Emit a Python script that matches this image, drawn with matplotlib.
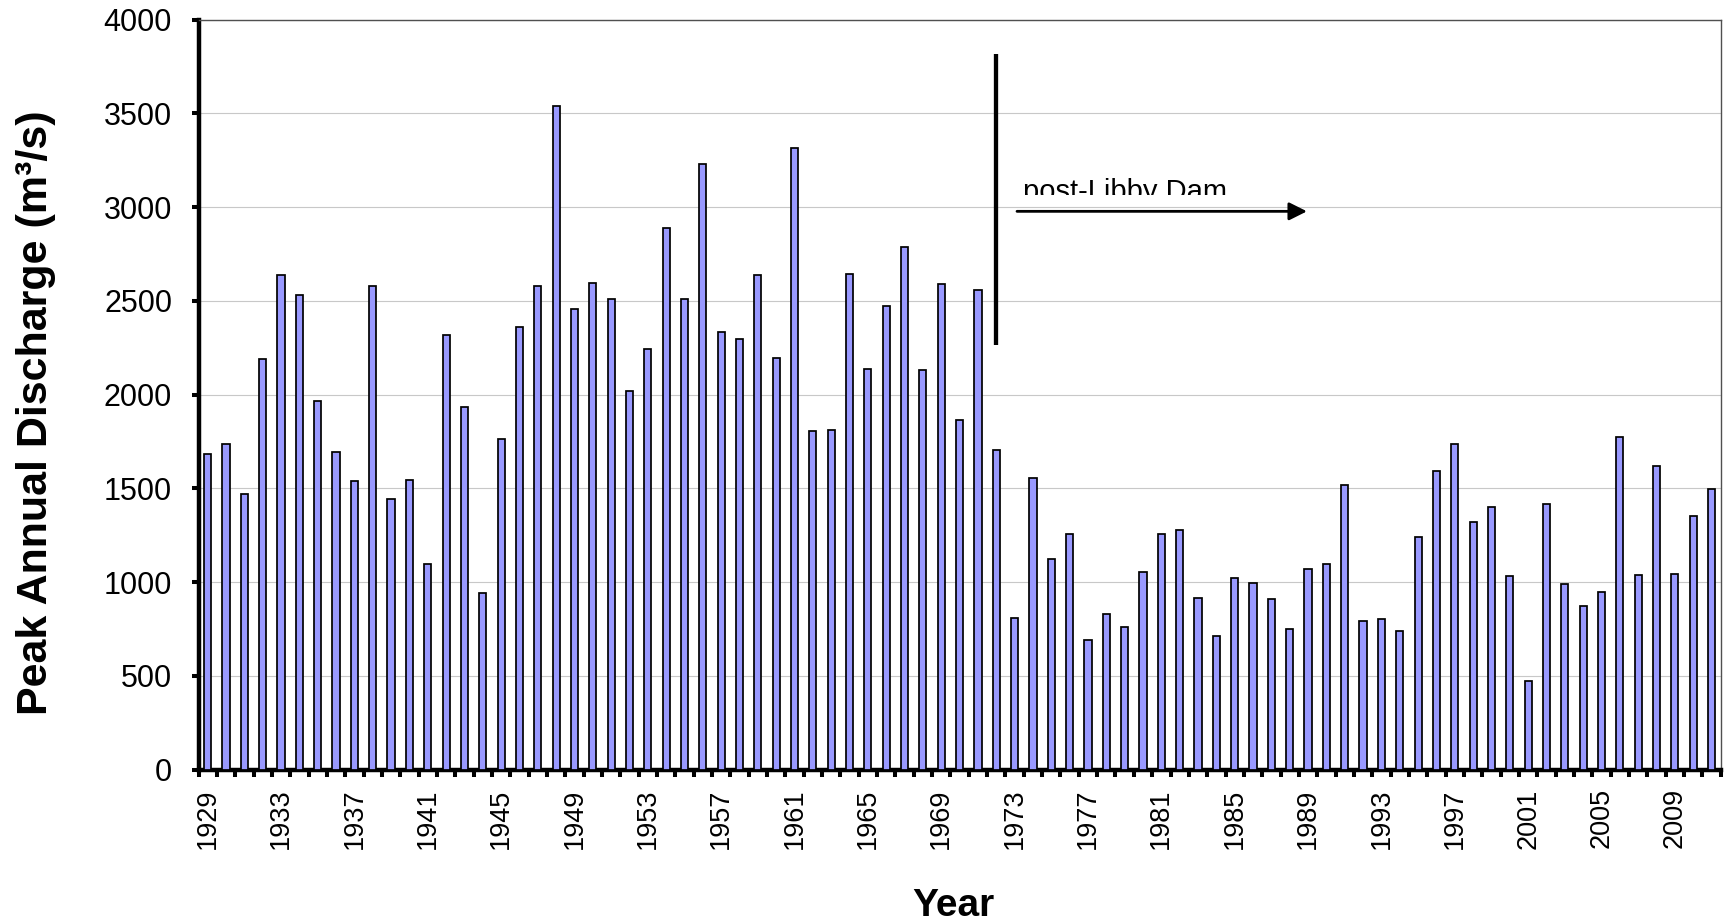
import matplotlib
matplotlib.use("Agg")
import matplotlib.pyplot as plt
from matplotlib.transforms import Bbox, TransformedBbox
import numpy as np

plt.rcParams['font.family'] = ['Liberation Sans', 'DejaVu Sans']

years = list(range(1929, 2012))
discharge = [
    1683, 1734, 1470, 2187, 2639, 2529, 1964, 1692, 1537, 2581,
    1445, 1544, 1097, 2320, 1933, 942, 1764, 2360, 2581, 3539,
    2458, 2595, 2510, 2018, 2245, 2888, 2511, 3230, 2332, 2297,
    2639, 2195, 3314, 1803, 1812, 2644, 2137, 2470, 2786, 2133,
    2589, 1862, 2556, 1702, 807, 1557, 1125, 1257, 692, 829,
    759, 1052, 1258, 1278, 916, 710, 1022, 994, 909, 749,
    1068, 1095, 1518, 793, 804, 740, 1241, 1592, 1738, 1322,
    1399, 1031, 473, 1417, 989, 871, 946, 1773, 1036, 1621,
    1042, 1353, 1496,
]
label_years = list(range(1929, 2012, 4))
dam_year = 1972
annotation_text = "post-Libby Dam"

W, H = 1729, 923
fig = plt.figure(figsize=(W / 100, H / 100), dpi=100)
left, right, top, bottom = 198.5, 1720.7, 19.5, 769.6
ax = fig.add_axes([left / W, 1 - bottom / H, (right - left) / W, (bottom - top) / H])

x = np.arange(len(years))
ax.bar(x, discharge, width=0.39, color='#9999FF', edgecolor='black', linewidth=1.25, zorder=3)

ax.set_xlim(-0.5, len(years) - 0.5)
ax.set_ylim(0, 4000)
ax.set_yticks(np.arange(0, 4001, 500))
ax.yaxis.grid(True, color='#c8c8c8', linewidth=0.8)
ax.set_axisbelow(True)

idx = [years.index(y) for y in label_years]
ax.set_xticks(idx)
ax.set_xticklabels([str(y) for y in label_years], rotation=90, fontsize=19.5)
ax.set_xticks(np.arange(-0.5, len(years)), minor=True)
ax.tick_params(axis='x', which='major', length=0, pad=13.5)
ax.tick_params(axis='x', which='minor', length=5, width=2.9, direction='out', color='black')
ax.tick_params(axis='y', which='major', length=5, width=2.9, direction='out', pad=14, labelsize=22)

for s in ['left', 'bottom']:
    ax.spines[s].set_linewidth(3.2)
    ax.spines[s].set_color('black')
for s in ['top', 'right']:
    ax.spines[s].set_linewidth(1.0)
    ax.spines[s].set_color('#505050')

# dam marker
xd = years.index(dam_year)
ax.plot([xd, xd], [2262, 3818], color='black', linewidth=3.1, zorder=4, solid_capstyle='butt')
ax.annotate('', xy=(xd + 16.94, 2977), xytext=(xd + 1.13, 2977),
            arrowprops=dict(arrowstyle='-|>,head_length=0.4,head_width=0.2',
                            mutation_scale=27, lw=2.0, color='black',
                            shrinkA=0, shrinkB=0), zorder=4)
t = ax.text(xd + 1.46, 3039, annotation_text, fontsize=21, ha='left', va='baseline', zorder=4)
t.set_clip_box(TransformedBbox(Bbox([[xd + 0.5, 3062], [xd + 25, 3600]]), ax.transData))
t.set_clip_on(True)

fig.text(36 / W, 1 - 412.5 / H, 'Peak Annual Discharge (m³/s)', rotation=90,
         ha='center', va='center', fontsize=31, fontweight='bold')
fig.text(953.5 / W, 1 - 916 / H, 'Year', ha='center', va='baseline',
         fontsize=28, fontweight='bold')

fig.savefig('out.png', dpi=100, facecolor='white')
